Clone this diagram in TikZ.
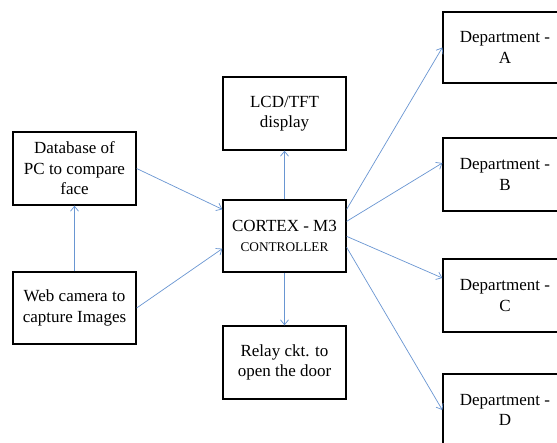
\documentclass[tikz,border=0pt]{standalone}
\usepackage{fontspec}
\setmainfont{Liberation Serif}
\usetikzlibrary{arrows.meta,calc}
\definecolor{arrowblue}{RGB}{105,150,210}
\tikzset{
  blk/.style={draw=black, line width=1.3pt, fill=white, rectangle, inner sep=0pt,
    align=center, font=\fontsize{17}{20.5}\selectfont},
  dbox/.style={draw=black, line width=1.3pt, fill=white, rectangle, inner sep=0pt,
    minimum width=160pt},
  dtxt/.style={align=center, inner sep=0pt, font=\fontsize{17}{20.5}\selectfont},
  conn/.style={draw=arrowblue, line width=0.7pt, -{Straight Barb[length=5pt,width=8pt,line width=0.7pt]}},
}
\begin{document}
\begin{tikzpicture}[x=1pt,y=-1pt]
\useasboundingbox (0,0) rectangle (557,443);
\clip (0,0) rectangle (557,443);
\fill[white] (0,0) rectangle (557,443);
\node[blk, minimum width=123pt, minimum height=73pt] (db) at (74.5,168.5) {Database of\\PC to compare\\face};
\node[blk, minimum width=123pt, minimum height=72pt] (web) at (74.5,308) {Web camera to\\capture Images};
\node[blk, minimum width=123pt, minimum height=73pt] (lcd) at (284.5,113.5) {LCD/TFT\\display};
\node[blk, minimum width=123pt, minimum height=72pt] (cpu) at (284.5,236) {CORTEX - M3\\{\fontsize{13.3}{15}\selectfont CONTROLLER}};
\node[blk, minimum width=123pt, minimum height=73pt] (relay) at (284.5,362.5) {Relay ckt. to\\open the door};
\node[dbox, minimum height=71pt] (da) at (523,47.5) {};
\node[dbox, minimum height=73pt] (dbb) at (523,174.5) {};
\node[dbox, minimum height=73pt] (dc) at (523,295.5) {};
\node[dbox, minimum height=72pt] (dd) at (523,410) {};
\node[dtxt] (ta) at (505,47.5) {Department -\\A};
\node[dtxt] (tb) at (505,174.5) {Department -\\B};
\node[dtxt] (tc) at (505,295.5) {Department -\\C};
\node[dtxt] (td) at (505,410) {Department -\\D};
\draw[conn] (web.north) -- (db.south);
\draw[conn] (db.east) -- ([yshift=-10pt]cpu.north west);
\draw[conn] (web.east) -- ([yshift=24pt]cpu.south west);
\draw[conn] (cpu.north) -- (lcd.south);
\draw[conn] (cpu.south) -- (relay.north);
\draw[conn] ([yshift=-10pt]cpu.north east) -- (da.west);
\draw[conn] ([yshift=-22pt]cpu.north east) -- ([yshift=11.5pt]dbb.west);
\draw[conn] ([yshift=-37pt]cpu.north east) -- ([yshift=17.5pt]dc.west);
\draw[conn] ([yshift=-48pt]cpu.north east) -- (dd.west);
\end{tikzpicture}
\end{document}
